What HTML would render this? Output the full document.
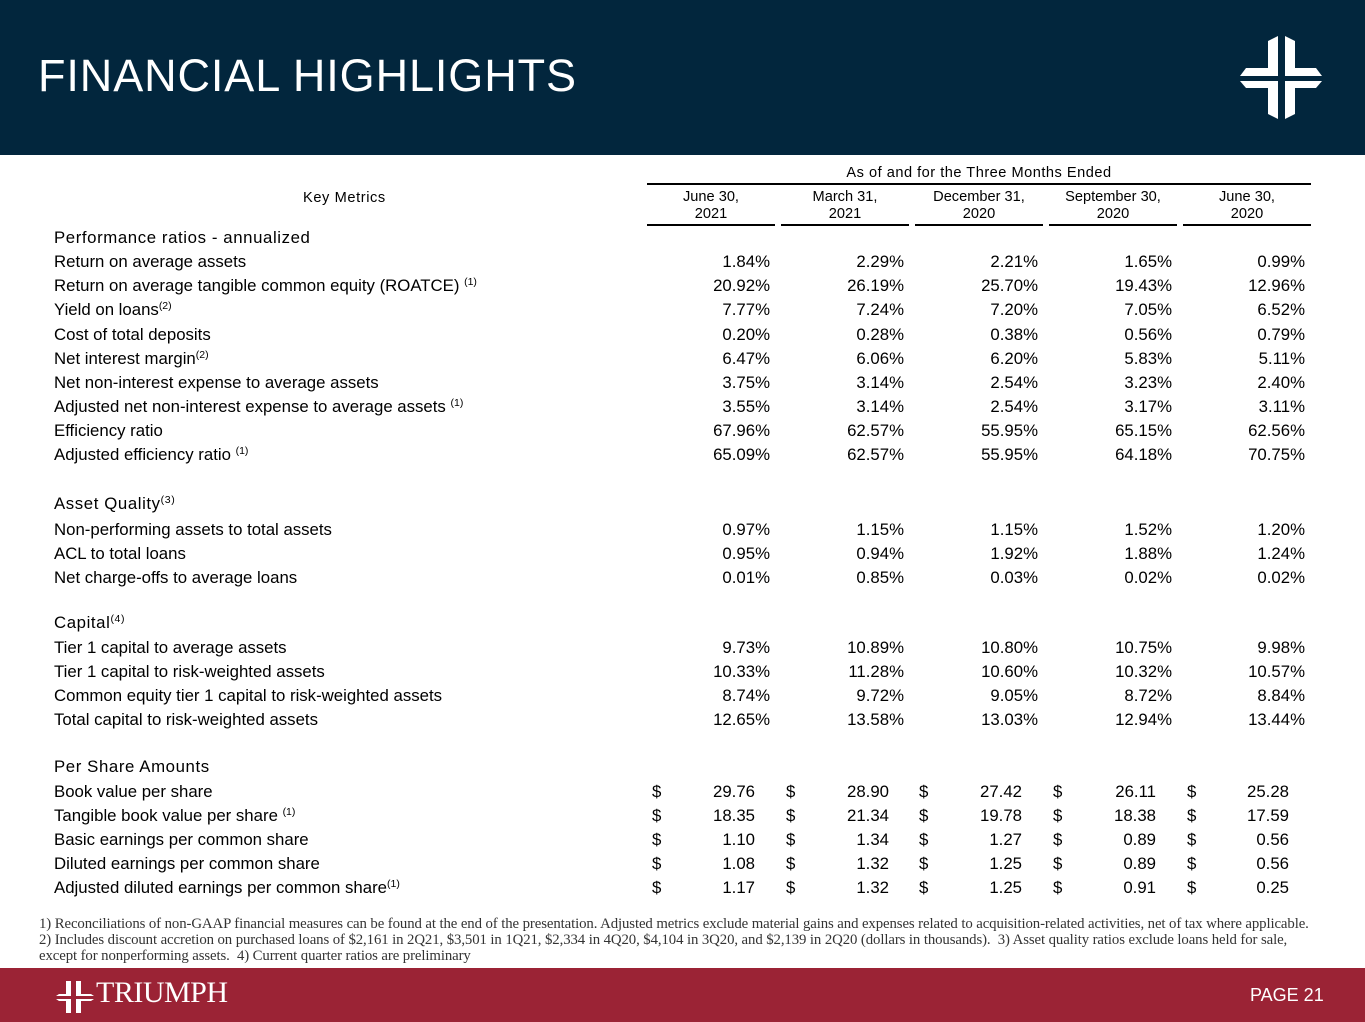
<!DOCTYPE html>
<html><head><meta charset="utf-8"><style>
body{margin:0;width:1365px;height:1022px;position:relative;background:#fff;font-family:"Liberation Sans",Arial,sans-serif;color:#000;overflow:hidden}
.hd{position:absolute;left:0;top:0;width:1365px;height:155px;background:#02263d}
.ttl{position:absolute;left:38px;top:50px;color:#fff;font-size:45px;letter-spacing:0.9px}
.ft{position:absolute;left:0;top:968px;width:1365px;height:54px;background:#9b2335}
.r{position:absolute;font-size:16.8px;line-height:20px;white-space:nowrap}
.l{left:54px}
.s{letter-spacing:0.6px}
sup{font-size:10.5px;line-height:0;vertical-align:6px}
.v{text-align:right;width:120px}
.h{position:absolute;font-size:14.6px;line-height:17px;text-align:center;width:128px}
.rule{position:absolute;height:2px;background:#000}
.fn{position:absolute;left:39px;font-family:"Liberation Serif",Georgia,serif;font-size:14.8px;line-height:16px;color:#333;white-space:nowrap;letter-spacing:-0.1px}
</style></head><body>
<div class="hd"></div>
<div class="ttl">FINANCIAL HIGHLIGHTS</div>
<svg style="position:absolute;left:1230px;top:30px" width="100" height="95" viewBox="0 0 100 95" fill="#fff">
<polygon points="38,11 48,6 48,46 10,46 16,38 38,38"/>
<polygon points="55,6 65,11 65,38 86,38 92,46 55,46"/>
<polygon points="10,51 48,51 48,89 38,84 38,58 16,58"/>
<polygon points="55,51 92,51 86,58 65,58 65,84 55,89"/>
</svg>
<div class="ft"></div>
<svg style="position:absolute;left:55px;top:980px" width="40" height="34" viewBox="0 0 40 34" fill="#fff">
<polygon points="11,14 11,1 16,1 16,16 1,16 4,14"/>
<polygon points="21,1 26,1 26,14 36,14 39,16 21,16"/>
<polygon points="1,19 16,19 16,33 11,33 11,21 4,21"/>
<polygon points="21,19 39,19 36,21 26,21 26,33 21,33"/>
</svg>
<div style="position:absolute;left:96px;top:976px;color:#fff;font-family:'Liberation Serif',serif;font-size:30px;letter-spacing:-0.5px">TRIUMPH</div>
<div style="position:absolute;left:1250px;top:985px;color:#fff;font-size:18px">PAGE 21</div>

<div style="position:absolute;left:647px;top:165px;width:664px;text-align:center;font-size:14.6px;letter-spacing:0.5px">As of and for the Three Months Ended</div>
<div class="rule" style="left:647px;top:183px;width:664px"></div>
<div style="position:absolute;left:303px;top:190px;font-size:14.6px;letter-spacing:0.6px">Key Metrics</div>
<div class="h" style="left:647px;top:189px">June 30,<br>2021</div>
<div class="h" style="left:781px;top:189px">March 31,<br>2021</div>
<div class="h" style="left:915px;top:189px">December 31,<br>2020</div>
<div class="h" style="left:1049px;top:189px">September 30,<br>2020</div>
<div class="h" style="left:1183px;top:189px">June 30,<br>2020</div>
<div class="rule" style="left:647px;top:224px;width:128px"></div>
<div class="rule" style="left:781px;top:224px;width:128px"></div>
<div class="rule" style="left:915px;top:224px;width:128px"></div>
<div class="rule" style="left:1049px;top:224px;width:128px"></div>
<div class="rule" style="left:1183px;top:224px;width:128px"></div>

<div class="r l s" style="top:228px">Performance ratios - annualized</div>

<div class="r l" style="top:252px">Return on average assets</div>
<div class="r v" style="top:252px;left:650px">1.84%</div><div class="r v" style="top:252px;left:784px">2.29%</div><div class="r v" style="top:252px;left:918px">2.21%</div><div class="r v" style="top:252px;left:1052px">1.65%</div><div class="r v" style="top:252px;left:1185px">0.99%</div>

<div class="r l" style="top:276px">Return on average tangible common equity (ROATCE) <sup>(1)</sup></div>
<div class="r v" style="top:276px;left:650px">20.92%</div><div class="r v" style="top:276px;left:784px">26.19%</div><div class="r v" style="top:276px;left:918px">25.70%</div><div class="r v" style="top:276px;left:1052px">19.43%</div><div class="r v" style="top:276px;left:1185px">12.96%</div>

<div class="r l" style="top:300px">Yield on loans<sup>(2)</sup></div>
<div class="r v" style="top:300px;left:650px">7.77%</div><div class="r v" style="top:300px;left:784px">7.24%</div><div class="r v" style="top:300px;left:918px">7.20%</div><div class="r v" style="top:300px;left:1052px">7.05%</div><div class="r v" style="top:300px;left:1185px">6.52%</div>

<div class="r l" style="top:325px">Cost of total deposits</div>
<div class="r v" style="top:325px;left:650px">0.20%</div><div class="r v" style="top:325px;left:784px">0.28%</div><div class="r v" style="top:325px;left:918px">0.38%</div><div class="r v" style="top:325px;left:1052px">0.56%</div><div class="r v" style="top:325px;left:1185px">0.79%</div>

<div class="r l" style="top:349px">Net interest margin<sup>(2)</sup></div>
<div class="r v" style="top:349px;left:650px">6.47%</div><div class="r v" style="top:349px;left:784px">6.06%</div><div class="r v" style="top:349px;left:918px">6.20%</div><div class="r v" style="top:349px;left:1052px">5.83%</div><div class="r v" style="top:349px;left:1185px">5.11%</div>

<div class="r l" style="top:373px">Net non-interest expense to average assets</div>
<div class="r v" style="top:373px;left:650px">3.75%</div><div class="r v" style="top:373px;left:784px">3.14%</div><div class="r v" style="top:373px;left:918px">2.54%</div><div class="r v" style="top:373px;left:1052px">3.23%</div><div class="r v" style="top:373px;left:1185px">2.40%</div>

<div class="r l" style="top:397px">Adjusted net non-interest expense to average assets <sup>(1)</sup></div>
<div class="r v" style="top:397px;left:650px">3.55%</div><div class="r v" style="top:397px;left:784px">3.14%</div><div class="r v" style="top:397px;left:918px">2.54%</div><div class="r v" style="top:397px;left:1052px">3.17%</div><div class="r v" style="top:397px;left:1185px">3.11%</div>

<div class="r l" style="top:421px">Efficiency ratio</div>
<div class="r v" style="top:421px;left:650px">67.96%</div><div class="r v" style="top:421px;left:784px">62.57%</div><div class="r v" style="top:421px;left:918px">55.95%</div><div class="r v" style="top:421px;left:1052px">65.15%</div><div class="r v" style="top:421px;left:1185px">62.56%</div>

<div class="r l" style="top:445px">Adjusted efficiency ratio <sup>(1)</sup></div>
<div class="r v" style="top:445px;left:650px">65.09%</div><div class="r v" style="top:445px;left:784px">62.57%</div><div class="r v" style="top:445px;left:918px">55.95%</div><div class="r v" style="top:445px;left:1052px">64.18%</div><div class="r v" style="top:445px;left:1185px">70.75%</div>

<div class="r l s" style="top:494px">Asset Quality<sup>(3)</sup></div>

<div class="r l" style="top:520px">Non-performing assets to total assets</div>
<div class="r v" style="top:520px;left:650px">0.97%</div><div class="r v" style="top:520px;left:784px">1.15%</div><div class="r v" style="top:520px;left:918px">1.15%</div><div class="r v" style="top:520px;left:1052px">1.52%</div><div class="r v" style="top:520px;left:1185px">1.20%</div>

<div class="r l" style="top:544px">ACL to total loans</div>
<div class="r v" style="top:544px;left:650px">0.95%</div><div class="r v" style="top:544px;left:784px">0.94%</div><div class="r v" style="top:544px;left:918px">1.92%</div><div class="r v" style="top:544px;left:1052px">1.88%</div><div class="r v" style="top:544px;left:1185px">1.24%</div>

<div class="r l" style="top:568px">Net charge-offs to average loans</div>
<div class="r v" style="top:568px;left:650px">0.01%</div><div class="r v" style="top:568px;left:784px">0.85%</div><div class="r v" style="top:568px;left:918px">0.03%</div><div class="r v" style="top:568px;left:1052px">0.02%</div><div class="r v" style="top:568px;left:1185px">0.02%</div>

<div class="r l s" style="top:613px">Capital<sup>(4)</sup></div>

<div class="r l" style="top:638px">Tier 1 capital to average assets</div>
<div class="r v" style="top:638px;left:650px">9.73%</div><div class="r v" style="top:638px;left:784px">10.89%</div><div class="r v" style="top:638px;left:918px">10.80%</div><div class="r v" style="top:638px;left:1052px">10.75%</div><div class="r v" style="top:638px;left:1185px">9.98%</div>

<div class="r l" style="top:662px">Tier 1 capital to risk-weighted assets</div>
<div class="r v" style="top:662px;left:650px">10.33%</div><div class="r v" style="top:662px;left:784px">11.28%</div><div class="r v" style="top:662px;left:918px">10.60%</div><div class="r v" style="top:662px;left:1052px">10.32%</div><div class="r v" style="top:662px;left:1185px">10.57%</div>

<div class="r l" style="top:686px">Common equity tier 1 capital to risk-weighted assets</div>
<div class="r v" style="top:686px;left:650px">8.74%</div><div class="r v" style="top:686px;left:784px">9.72%</div><div class="r v" style="top:686px;left:918px">9.05%</div><div class="r v" style="top:686px;left:1052px">8.72%</div><div class="r v" style="top:686px;left:1185px">8.84%</div>

<div class="r l" style="top:710px">Total capital to risk-weighted assets</div>
<div class="r v" style="top:710px;left:650px">12.65%</div><div class="r v" style="top:710px;left:784px">13.58%</div><div class="r v" style="top:710px;left:918px">13.03%</div><div class="r v" style="top:710px;left:1052px">12.94%</div><div class="r v" style="top:710px;left:1185px">13.44%</div>

<div class="r l s" style="top:757px">Per Share Amounts</div>

<div class="r l" style="top:782px">Book value per share</div>
<div class="r" style="top:782px;left:652px">$</div><div class="r" style="top:782px;left:786px">$</div><div class="r" style="top:782px;left:919px">$</div><div class="r" style="top:782px;left:1053px">$</div><div class="r" style="top:782px;left:1187px">$</div>
<div class="r v" style="top:782px;left:635px">29.76</div><div class="r v" style="top:782px;left:769px">28.90</div><div class="r v" style="top:782px;left:902px">27.42</div><div class="r v" style="top:782px;left:1036px">26.11</div><div class="r v" style="top:782px;left:1169px">25.28</div>

<div class="r l" style="top:806px">Tangible book value per share <sup>(1)</sup></div>
<div class="r" style="top:806px;left:652px">$</div><div class="r" style="top:806px;left:786px">$</div><div class="r" style="top:806px;left:919px">$</div><div class="r" style="top:806px;left:1053px">$</div><div class="r" style="top:806px;left:1187px">$</div>
<div class="r v" style="top:806px;left:635px">18.35</div><div class="r v" style="top:806px;left:769px">21.34</div><div class="r v" style="top:806px;left:902px">19.78</div><div class="r v" style="top:806px;left:1036px">18.38</div><div class="r v" style="top:806px;left:1169px">17.59</div>

<div class="r l" style="top:830px">Basic earnings per common share</div>
<div class="r" style="top:830px;left:652px">$</div><div class="r" style="top:830px;left:786px">$</div><div class="r" style="top:830px;left:919px">$</div><div class="r" style="top:830px;left:1053px">$</div><div class="r" style="top:830px;left:1187px">$</div>
<div class="r v" style="top:830px;left:635px">1.10</div><div class="r v" style="top:830px;left:769px">1.34</div><div class="r v" style="top:830px;left:902px">1.27</div><div class="r v" style="top:830px;left:1036px">0.89</div><div class="r v" style="top:830px;left:1169px">0.56</div>

<div class="r l" style="top:854px">Diluted earnings per common share</div>
<div class="r" style="top:854px;left:652px">$</div><div class="r" style="top:854px;left:786px">$</div><div class="r" style="top:854px;left:919px">$</div><div class="r" style="top:854px;left:1053px">$</div><div class="r" style="top:854px;left:1187px">$</div>
<div class="r v" style="top:854px;left:635px">1.08</div><div class="r v" style="top:854px;left:769px">1.32</div><div class="r v" style="top:854px;left:902px">1.25</div><div class="r v" style="top:854px;left:1036px">0.89</div><div class="r v" style="top:854px;left:1169px">0.56</div>

<div class="r l" style="top:878px">Adjusted diluted earnings per common share<sup>(1)</sup></div>
<div class="r" style="top:878px;left:652px">$</div><div class="r" style="top:878px;left:786px">$</div><div class="r" style="top:878px;left:919px">$</div><div class="r" style="top:878px;left:1053px">$</div><div class="r" style="top:878px;left:1187px">$</div>
<div class="r v" style="top:878px;left:635px">1.17</div><div class="r v" style="top:878px;left:769px">1.32</div><div class="r v" style="top:878px;left:902px">1.25</div><div class="r v" style="top:878px;left:1036px">0.91</div><div class="r v" style="top:878px;left:1169px">0.25</div>

<div class="fn" style="top:916px">1) Reconciliations of non-GAAP financial measures can be found at the end of the presentation. Adjusted metrics exclude material gains and expenses related to acquisition-related activities, net of tax where applicable.</div>
<div class="fn" style="top:932px">2) Includes discount accretion on purchased loans of $2,161 in 2Q21, $3,501 in 1Q21, $2,334 in 4Q20, $4,104 in 3Q20, and $2,139 in 2Q20 (dollars in thousands).&nbsp; 3) Asset quality ratios exclude loans held for sale,</div>
<div class="fn" style="top:948px">except for nonperforming assets.&nbsp; 4) Current quarter ratios are preliminary</div>
</body></html>
